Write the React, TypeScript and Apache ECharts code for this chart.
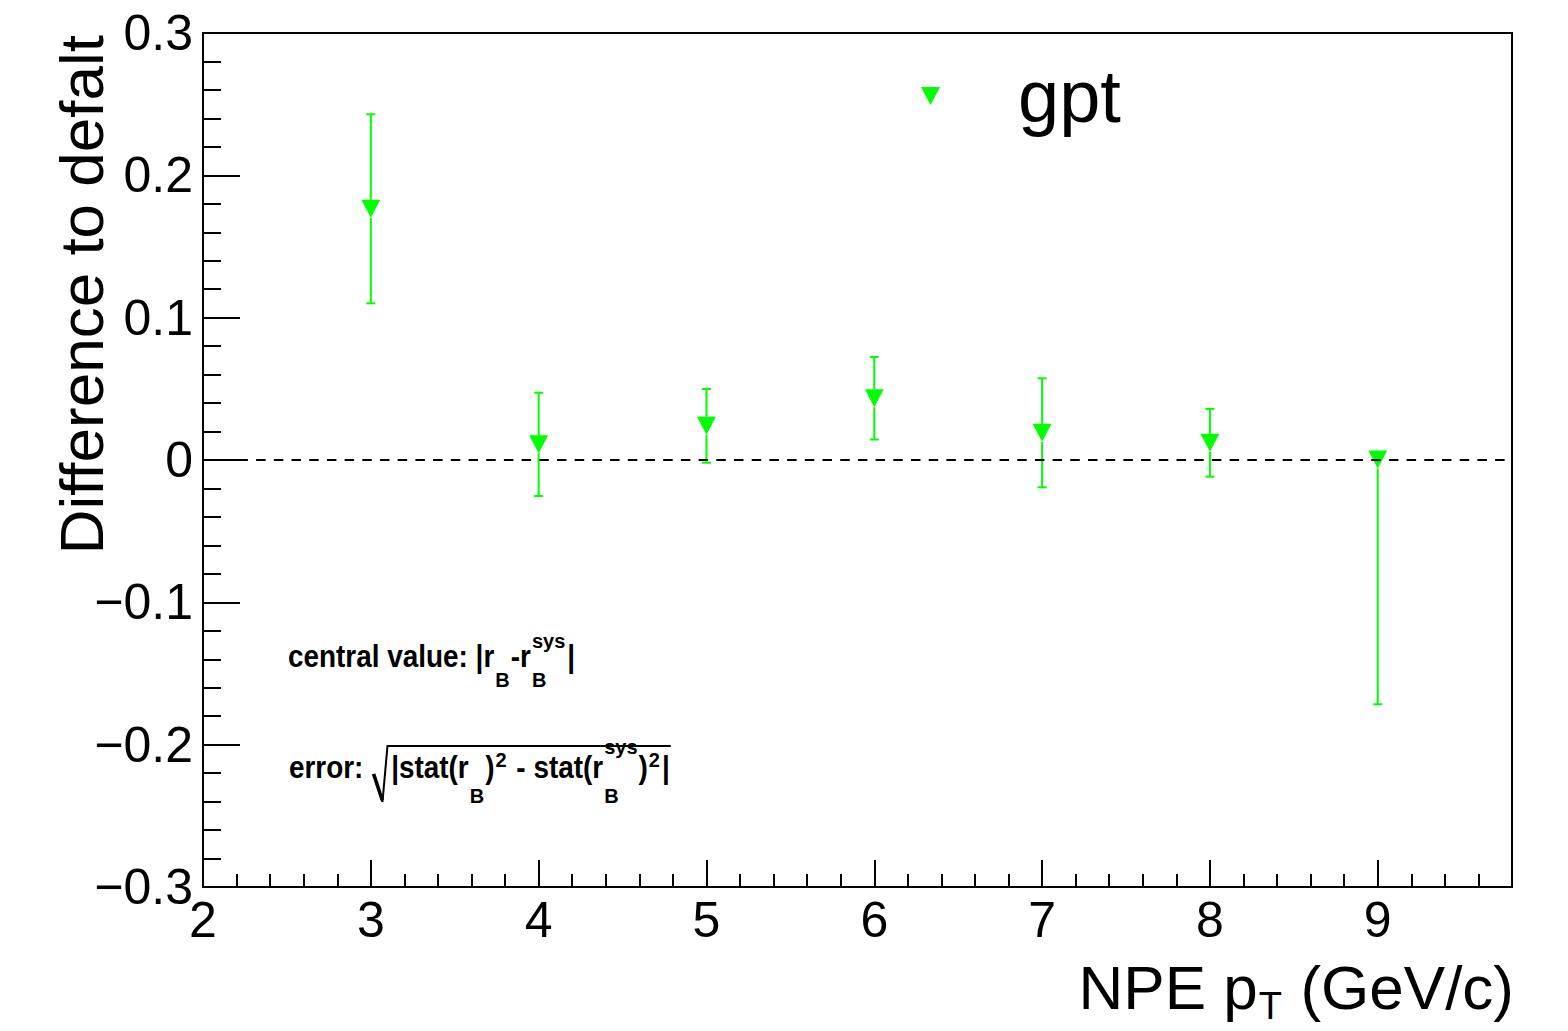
import React, { useEffect, useRef } from "react";
import * as echarts from "echarts";

// ---- data ----
const ptValues = [3, 4, 5, 6, 7, 8, 9];
const diffValues = [0.1765, 0.011, 0.024, 0.0434, 0.0191, 0.0121, 0.0004];
const errLow = [0.0664, 0.0363, 0.0259, 0.029, 0.0383, 0.0238, 0.172];
const errHigh = [0.0664, 0.0363, 0.0259, 0.029, 0.0383, 0.0238, 0];
const seriesName = "gpt";
const xRange = [2, 9.8];
const yRange = [-0.3, 0.3];
const xTitleParts = ["NPE p", "T", " (GeV/c)"];
const yTitle = "Difference to defalt";

const FONT = '"Liberation Sans", Arial, Helvetica, sans-serif';
const GREEN = "#00ff00";
const TRI = "path://M0,0L19,0L9.5,18Z";

let measureCtx: CanvasRenderingContext2D | null = null;
function tw(t: string, size: number, bold: boolean): number {
  if (!measureCtx) measureCtx = document.createElement("canvas").getContext("2d");
  if (!measureCtx) return t.length * size * 0.55;
  measureCtx.font = `${bold ? "bold " : ""}${size}px ${FONT}`;
  return measureCtx.measureText(t).width;
}

function txt(t: string, x: number, base: number, size: number, bold: boolean, align = "left", sx = 1) {
  return {
    type: "text",
    x,
    y: base - 0.3465 * size,
    scaleX: sx,
    silent: true,
    style: {
      text: t,
      font: `${bold ? "bold " : ""}${size}px ${FONT}`,
      fill: "#000",
      align,
      textAlign: align,
      verticalAlign: "middle",
      textVerticalAlign: "middle",
    },
  };
}

type Part = { t: string; size: number; dy?: number; sx?: number };
type Item = Part | { gap: number } | { stack: Part[] };

function flow(x0: number, base: number, items: Item[], bold: boolean, els: any[]): number {
  let x = x0;
  for (const it of items) {
    if ("gap" in it) {
      x += it.gap;
      continue;
    }
    const parts: Part[] = "stack" in it ? it.stack : [it as Part];
    let w = 0;
    for (const p of parts) {
      const s = p.sx || 1;
      els.push(txt(p.t, x, base + (p.dy || 0), p.size, bold, "left", s));
      w = Math.max(w, tw(p.t, p.size, bold) * s);
    }
    x += w;
  }
  return x;
}

const M = 31; // main annotation size
const MS = 0.9; // horizontal condensing of annotation text
const S = 20; // script size

function buildGraphics(): any[] {
  const els: any[] = [];
  // annotation line 1
  flow(
    288,
    667,
    [
      { t: "central value: |r", size: M, sx: MS },
      { gap: 1 },
      { t: "B", size: S, dy: 20 },
      { gap: 1 },
      { t: "-r", size: M, sx: MS },
      { gap: 1 },
      { stack: [{ t: "sys", size: S, dy: -19 }, { t: "B", size: S, dy: 20 }] },
      { gap: 2 },
      { t: "|", size: M, sx: MS },
    ],
    true,
    els
  );
  // annotation line 2 with square root
  const base2 = 778;
  let sx = flow(289, base2, [{ t: "error: ", size: M, sx: MS }], true, els);
  sx += 2;
  const inner = sx + 18;
  const endX = flow(
    inner,
    base2,
    [
      { t: "|stat(r", size: M, sx: MS },
      { gap: 1 },
      { t: "B", size: S, dy: 25 },
      { gap: 1 },
      { t: ")", size: M, sx: MS },
      { gap: 1 },
      { t: "2", size: S, dy: -11 },
      { gap: 2 },
      { t: " - stat(r", size: M, sx: MS },
      { gap: 1 },
      { stack: [{ t: "sys", size: S, dy: -24 }, { t: "B", size: S, dy: 25 }] },
      { gap: 1 },
      { t: ")", size: M, sx: MS },
      { gap: 1 },
      { t: "2", size: S, dy: -11 },
      { gap: 2 },
      { t: "|", size: M, sx: MS },
    ],
    true,
    els
  );
  els.push({
    type: "polyline",
    silent: true,
    shape: {
      points: [
        [sx, base2 - 4],
        [sx + 9.3, base2 + 24],
        [sx + 14.3, base2 - 32],
        [endX + 1, base2 - 32],
      ],
    },
    style: { stroke: "#000", lineWidth: 2, fill: null },
  });
  els.push({
    type: "line",
    silent: true,
    shape: { x1: sx + 0.5, y1: base2 - 4, x2: sx + 9, y2: base2 + 22 },
    style: { stroke: "#000", lineWidth: 3.5 },
  });

  // x axis title (right aligned at frame edge)
  const xb = 1009;
  const w1 = tw(xTitleParts[0], 62, false);
  const w2 = tw(xTitleParts[1], 40, false);
  const w3 = tw(xTitleParts[2], 62, false);
  const right = 1514;
  const x3 = right - w3;
  const x2 = x3 - w2 - 1;
  const x1 = x2 - w1;
  els.push(txt(xTitleParts[0], x1, xb, 62, false));
  els.push(txt(xTitleParts[1], x2 + 1, 1019, 38, false));
  els.push(txt(xTitleParts[2], x3, xb, 62, false));

  // y axis title (rotated, aligned to the top end of axis)
  els.push({
    type: "text",
    x: 81.5,
    y: 35,
    rotation: Math.PI / 2,
    silent: true,
    style: {
      text: yTitle,
      font: `62px ${FONT}`,
      fill: "#000",
      align: "right",
      textAlign: "right",
      verticalAlign: "middle",
      textVerticalAlign: "middle",
    },
  });
  return els;
}

function yFmt(v: number): string {
  const r = Math.round(v * 10) / 10;
  if (Math.abs(r) < 1e-9) return "0";
  return (r < 0 ? "\u2212" : "") + Math.abs(r).toFixed(1);
}

export default function App() {
  const ref = useRef<HTMLDivElement>(null);
  useEffect(() => {
    if (!ref.current) return;
    const chart = echarts.init(ref.current, null, { renderer: "svg" });
    const points = ptValues.map((x, i) => [x, diffValues[i]]);
    const errData = ptValues.map((x, i) => [x, diffValues[i], errLow[i], errHigh[i]]);
    const axisLineStyle = { color: "#000", width: 2 };
    const option: any = {
      animation: false,
      backgroundColor: "#fff",
      grid: {
        left: 203,
        top: 33,
        right: 56,
        bottom: 144,
        show: true,
        borderColor: "#000",
        borderWidth: 2,
        backgroundColor: "transparent",
      },
      legend: {
        show: true,
        data: [seriesName],
        left: 921,
        top: 59,
        padding: 0,
        itemWidth: 19,
        itemHeight: 18,
        selectedMode: false,
        icon: TRI,
        textStyle: {
          fontSize: 74,
          fontFamily: FONT,
          color: "#000",
          lineHeight: 74,
          padding: [0, 0, 0, 73],
        },
      },
      xAxis: [
        {
          type: "value",
          min: xRange[0],
          max: xRange[1],
          interval: 1,
          position: "bottom",
          axisLine: { show: true, onZero: false, lineStyle: axisLineStyle },
          axisTick: { show: true, inside: true, length: 27, lineStyle: axisLineStyle },
          axisLabel: {
            show: true,
            margin: 8,
            fontSize: 50,
            fontFamily: FONT,
            color: "#000",
            showMaxLabel: false,
            formatter: (v: number) => String(Math.round(v)),
          },
          splitLine: { show: false },
        },
        {
          type: "value",
          min: xRange[0],
          max: xRange[1],
          interval: 0.2,
          position: "bottom",
          axisLine: { show: false, onZero: false },
          axisTick: { show: true, inside: true, length: 13, lineStyle: axisLineStyle },
          axisLabel: { show: false },
          splitLine: { show: false },
        },
      ],
      yAxis: {
        type: "value",
        min: yRange[0],
        max: yRange[1],
        interval: 0.1,
        axisLine: { show: true, onZero: false, lineStyle: axisLineStyle },
        axisTick: { show: true, inside: true, length: 37, lineStyle: axisLineStyle },
        minorTick: { show: true, splitNumber: 5, length: 18, lineStyle: axisLineStyle },
        axisLabel: {
          margin: 10,
          fontSize: 50,
          fontFamily: FONT,
          color: "#000",
          formatter: yFmt,
        },
        splitLine: { show: false },
        minorSplitLine: { show: false },
      },
      series: [
        {
          name: seriesName + " error",
          type: "custom",
          xAxisIndex: 0,
          yAxisIndex: 0,
          silent: true,
          z: 2,
          data: errData,
          encode: { x: 0, y: 1 },
          renderItem: (params: any, api: any) => {
            const x = api.value(0);
            const y = api.value(1);
            const lo = api.value(2);
            const hi = api.value(3);
            const c = api.coord([x, y]);
            const pLo = api.coord([x, y - lo]);
            const pHi = api.coord([x, y + hi]);
            const st = { stroke: GREEN, lineWidth: 2 };
            const gap = 9;
            const cap = 4.5;
            const children: any[] = [];
            if (pLo[1] > c[1] + gap) {
              children.push({ type: "line", shape: { x1: c[0], y1: c[1] + gap, x2: c[0], y2: pLo[1] }, style: st });
              children.push({ type: "line", shape: { x1: c[0] - cap, y1: pLo[1], x2: c[0] + cap, y2: pLo[1] }, style: st });
            }
            if (pHi[1] < c[1] - gap) {
              children.push({ type: "line", shape: { x1: c[0], y1: c[1] - gap, x2: c[0], y2: pHi[1] }, style: st });
              children.push({ type: "line", shape: { x1: c[0] - cap, y1: pHi[1], x2: c[0] + cap, y2: pHi[1] }, style: st });
            }
            return { type: "group", children };
          },
        },
        {
          name: seriesName,
          type: "scatter",
          xAxisIndex: 0,
          yAxisIndex: 0,
          z: 3,
          symbol: TRI,
          symbolSize: [19, 18],
          itemStyle: { color: GREEN, opacity: 1 },
          data: points,
          markLine: {
            silent: true,
            symbol: ["none", "none"],
            label: { show: false },
            lineStyle: { color: "#000", width: 2, type: [9.5, 8.2] },
            data: [{ yAxis: 0 }],
          },
        },
      ],
      graphic: { elements: buildGraphics() },
    };
    chart.setOption(option);
    return () => chart.dispose();
  }, []);
  return (
    <div
      ref={ref}
      style={{ position: "absolute", left: 0, top: 0, width: 1568, height: 1031, background: "#fff" }}
    />
  );
}
